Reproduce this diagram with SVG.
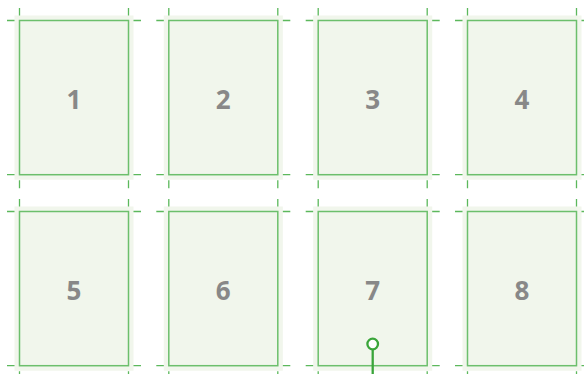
<svg xmlns="http://www.w3.org/2000/svg" width="584" height="374" viewBox="0 0 584 374">
<defs>
<style>
.bg{fill:#f1f6ec;}
.card{fill:none;stroke:#6cbf6c;stroke-width:1.5;}
.crop{stroke:#5cb85c;stroke-width:1.3;fill:none;}
.lbl{font-family:"Open Sans","Liberation Sans",sans-serif;font-weight:bold;font-size:26px;fill:#888888;text-anchor:middle;}
.pin{stroke:#3aa53a;stroke-width:2.3;fill:#ffffff;}
</style>
<g id="marks">
<path class="crop" d="M-12.5,0H-4.5M113.5,0H121.5M0,-12.5V-4.5M109,-12.5V-4.5M-12.5,154.2H-4.5M113.5,154.2H121.5M0,159.7V167.7M109,159.7V167.7"/>
</g>
</defs>
<g id="crops">
<use href="#marks" x="19.5" y="20.5"/>
<use href="#marks" x="168.8" y="20.5"/>
<use href="#marks" x="318.2" y="20.5"/>
<use href="#marks" x="467.5" y="20.5"/>
<use href="#marks" x="19.5" y="211.5"/>
<use href="#marks" x="168.8" y="211.5"/>
<use href="#marks" x="318.2" y="211.5"/>
<use href="#marks" x="467.5" y="211.5"/>
</g>
<g id="n1"><rect class="bg" x="14.5" y="15.5" width="119" height="164.2"/><rect class="card" x="19.5" y="20.5" width="109" height="154.2"/><text class="lbl" x="74" y="109">1</text></g>
<g id="n2"><rect class="bg" x="163.8" y="15.5" width="119" height="164.2"/><rect class="card" x="168.8" y="20.5" width="109" height="154.2"/><text class="lbl" x="223.3" y="109">2</text></g>
<g id="n3"><rect class="bg" x="313.2" y="15.5" width="119" height="164.2"/><rect class="card" x="318.2" y="20.5" width="109" height="154.2"/><text class="lbl" x="372.7" y="109">3</text></g>
<g id="n4"><rect class="bg" x="462.5" y="15.5" width="119" height="164.2"/><rect class="card" x="467.5" y="20.5" width="109" height="154.2"/><text class="lbl" x="522" y="109">4</text></g>
<g id="n5"><rect class="bg" x="14.5" y="206.5" width="119" height="164.2"/><rect class="card" x="19.5" y="211.5" width="109" height="154.2"/><text class="lbl" x="74" y="300">5</text></g>
<g id="n6"><rect class="bg" x="163.8" y="206.5" width="119" height="164.2"/><rect class="card" x="168.8" y="211.5" width="109" height="154.2"/><text class="lbl" x="223.3" y="300">6</text></g>
<g id="n7"><rect class="bg" x="313.2" y="206.5" width="119" height="164.2"/><rect class="card" x="318.2" y="211.5" width="109" height="154.2"/><text class="lbl" x="372.7" y="300">7</text></g>
<g id="n8"><rect class="bg" x="462.5" y="206.5" width="119" height="164.2"/><rect class="card" x="467.5" y="211.5" width="109" height="154.2"/><text class="lbl" x="522" y="300">8</text></g>
<g id="connectors">
<line class="pin" x1="372.7" y1="349.5" x2="372.7" y2="374"/>
<circle class="pin" cx="372.7" cy="344" r="5.3"/>
</g>
</svg>
